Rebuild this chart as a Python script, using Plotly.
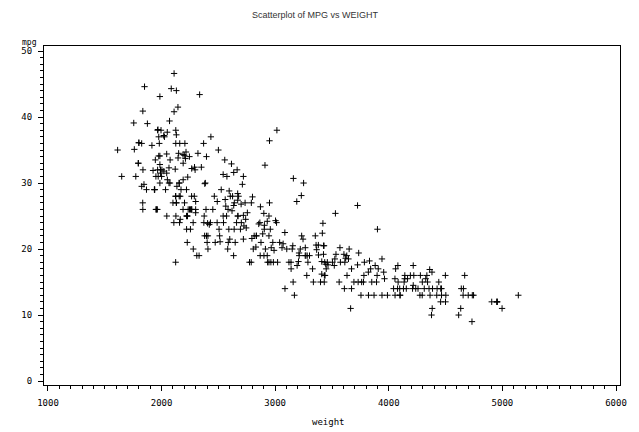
import plotly.graph_objects as go

# weight (lbs) and mpg, read from the scatterplot
weight = [
    3504, 3693, 3436, 3433, 3449, 4341, 4354, 4312, 4425, 3850, 3563, 3609, 3761, 3086, 2372, 2833, 2774, 2587, 2130, 1835,
    2672, 2430, 2375, 2234, 2648, 4615, 4376, 4382, 4732,
    2130, 2264, 2228, 2046, 2634, 3439, 3329, 3302, 3288, 4209, 4464, 4154, 4096, 4955, 4746, 5140, 2962, 2408, 3282, 3139,
    2220, 2123, 2074, 2065, 1773, 1613, 1834, 1955,
    2278, 2126, 2254, 2408, 2226, 4274, 4385, 4135, 4129, 3672, 4633, 4502, 4456, 4422, 2330, 3892, 4098, 4294, 4077, 2933,
    2511, 2979, 2189, 2395, 2288, 2506, 2164, 2100,
    4100, 3672, 3988, 4042, 3777, 4952, 4464, 4363, 4237, 4735, 4951, 3821, 3121, 3278, 2945, 3021, 2904, 1950, 4997, 4906,
    4654, 4499, 2789, 2279, 2401, 2379, 2124, 2310, 2472, 2265, 4082, 4278, 1867, 2158, 2582, 2868, 3399, 2660, 2807, 3664,
    3102, 2875, 2901, 3336, 1950, 2451, 1836, 2542, 3781, 3632, 3613, 4141, 4699, 4457, 4638, 4257, 2219, 1963, 2300, 1649,
    2003, 2125, 2108, 2246, 2489, 2391, 2000,
    3264, 3459, 3432, 3158, 4668, 4440, 4498, 4657, 3907, 3897, 3730, 3785, 3039, 3221, 3169, 2171, 2639, 2914, 2592, 2702,
    2223, 2545, 2984, 1937, 3211, 2694, 2957, 2945, 2671, 1795,
    2464, 2220, 2572, 2255, 2202, 4215, 4190, 3962, 4215, 3233, 3353, 3012, 3085, 2035, 2164, 1937, 1795, 3651, 3574, 3645,
    3193, 1825, 1990, 2155, 2565, 3150, 3940, 3270, 2930, 3820, 4380, 4055, 3870, 3755,
    2045, 2155, 1825, 2300, 1945, 3880, 4060, 4140, 4295, 3520, 3425, 3630, 3525, 4220, 4165, 4325, 4335, 1940, 2740, 2265,
    2755, 2051, 2075, 1985, 2190, 2815, 2600, 2720,
    1985, 1800, 1985, 2070, 1800, 3365, 3735, 3570, 3535, 3155, 2965, 2720, 3430, 3210, 3380, 3070, 3620, 3410, 3425, 3445,
    3205, 4080, 2155, 2560, 2300, 2230, 2515, 2745, 2855, 2405, 2830, 3140, 2795, 3410, 1990, 2135,
    3245, 2990, 2890, 3265, 3360, 3840, 3725, 3955, 3830, 4360, 4054, 3605, 3940, 1925, 1975, 1915, 2670, 3530, 3900, 3190,
    3420, 2200, 2150, 2020, 2130, 2670, 2595, 2700, 2556,
    2144, 1968, 2120, 2019, 2678, 2870, 3003, 3381, 2188, 2711, 2542, 2434, 2265, 2110, 2800, 2110, 2085, 2335, 2950, 3250,
    1850, 1835, 2145, 1845, 2910, 2420, 2500, 2905, 2290,
    2490, 2635, 2620, 2725, 2385, 1755, 1875, 1760, 2065, 1975, 2050, 1985, 2215, 2045, 2380, 2190, 2320, 2210, 2350, 2615,
    2635, 3230, 3160, 2900, 2930, 3415, 3725, 3060, 3465,
    2605, 2640, 2395, 2575, 2525, 2735, 2865, 1980, 2025, 1970, 2125, 2125, 2160, 2205, 2245, 1965, 1965, 1995, 2945, 3015,
    2585, 2835, 2665, 2370, 2950, 2790, 2130, 2295, 2625, 2720,
]
mpg = [
    18, 15, 18, 16, 17, 15, 14, 14, 14, 15, 15, 14, 15, 14, 24, 22, 18, 21, 27, 26,
    25, 24, 25, 26, 21, 10, 10, 11, 9,
    27, 28, 25, 25, 19, 16, 17, 19, 18, 14, 14, 14, 14, 12, 13, 13, 18, 22, 19, 18,
    23, 28, 30, 30, 31, 35, 27, 26,
    24, 25, 23, 20, 21, 13, 14, 15, 14, 17, 11, 13, 12, 13, 19, 15, 13, 13, 14, 18,
    22, 21, 26, 22, 28, 23, 28, 27,
    13, 14, 13, 14, 15, 12, 13, 13, 14, 13, 12, 13, 18, 16, 18, 18, 23, 26, 11, 12,
    13, 12, 18, 20, 21, 22, 18, 19, 21, 26, 15, 16, 29, 24, 20, 19, 15, 24, 20, 11,
    20, 21, 19, 15, 31, 26, 32, 25, 16, 16, 18, 16, 13, 14, 14, 14, 29, 26, 26, 31,
    32, 28, 24, 26, 24, 26, 31,
    19, 18, 15, 15, 16, 15, 16, 14, 17, 16, 15, 18, 21, 20, 13, 29, 23, 20, 23, 24,
    25, 24, 18, 29, 19, 23, 23, 22, 25, 33,
    28, 25, 25, 26, 27, 17.5, 16, 15.5, 14.5, 22, 22, 24, 22.5, 29, 24.5, 29, 33, 20, 18, 18.5,
    17.5, 29.5, 32, 28, 26.5, 20, 13, 19, 19, 16.5, 16.5, 13, 13, 13,
    31.5, 30, 36, 25.5, 33.5, 17.5, 17, 15.5, 15, 17.5, 20.5, 19, 18.5, 16, 15.5, 15.5, 16, 29, 24.5, 26,
    25.5, 30.5, 33.5, 30, 30.5, 22, 21.5, 21.5,
    43.1, 36.1, 32.8, 39.4, 36.1, 19.9, 19.4, 20.2, 19.2, 20.5, 20.2, 25.1, 20.5, 19.4, 20.6, 20.8, 18.6, 18.1, 19.2, 17.7,
    18.1, 17.5, 30, 27.5, 27.2, 30.9, 21.1, 23.2, 23.8, 23.9, 20.3, 17, 21.6, 16.2, 31.5, 29.5,
    21.5, 19.8, 22.3, 20.2, 20.6, 17, 17.6, 16.5, 18.2, 16.9, 15.5, 19.2, 18.5, 31.9, 34.1, 35.7, 27.4, 25.4, 23, 27.2,
    23.9, 34.2, 34.5, 31.8, 37.3, 28.4, 28.8, 26.8, 33.5,
    41.5, 38.1, 32.1, 37.2, 28, 26.4, 24.3, 19.1, 34.3, 29.8, 31.3, 37, 32.2, 46.6, 27.9, 40.8, 44.3, 43.4, 36.4, 30,
    44.6, 40.9, 33.8, 29.8, 32.7, 23.7, 35, 23.6, 32.4,
    27.2, 26.6, 25.8, 23.5, 30, 39.1, 39, 35.1, 32.3, 37, 37.7, 34.1, 34.7, 34.4, 29.9, 33, 34.5, 33.7, 32.4, 32.9,
    31.6, 28.1, 30.7, 25.4, 24.2, 22.4, 26.6, 20.2, 17.6,
    28, 27, 34, 31, 29, 27, 24, 36, 37, 31, 38, 36, 36, 36, 34, 38, 32, 38, 25, 38,
    26, 22, 32, 36, 27, 27, 44, 32, 28, 31,
]

x_ticks = [1000, 2000, 3000, 4000, 5000, 6000]
x_labels = ["1000", "2000", "3000", "4000", "5000", "6000"]
y_ticks = [0, 10, 20, 30, 40, 50]
y_labels = ["0", "10", "20", "30", "40", "50"]

title_text = "Scatterplot of MPG vs WEIGHT"
x_title = "weight"
y_title = "mpg"

mono = "DejaVu Sans Mono"

fig = go.Figure()
fig.add_trace(go.Scatter(
    x=weight, y=mpg, mode="markers",
    marker=dict(symbol="cross-thin-open", size=4.5, color="black",
                line=dict(color="black", width=1)),
    hoverinfo="skip", showlegend=False,
))

axis_common = dict(
    showgrid=False, zeroline=False, showline=True, linecolor="black", linewidth=1,
    mirror=True, ticks="outside", tickcolor="black", ticklen=5, tickwidth=1,
    tickfont=dict(family=mono, size=9, color="black"),
)

fig.update_xaxes(
    range=[965, 6035], tickvals=x_ticks, ticktext=x_labels,
    minor=dict(dtick=100, tick0=1000, ticks="outside", ticklen=3, tickcolor="black", showgrid=False),
    ticklabelstandoff=4,
    **axis_common,
)
fig.update_yaxes(
    range=[-0.6, 50.76], tickvals=y_ticks, ticktext=y_labels,
    minor=dict(dtick=1, tick0=0, ticks="outside", ticklen=3, tickcolor="black", showgrid=False),
    ticklabelstandoff=4,
    **axis_common,
)

fig.update_layout(
    width=639, height=432,
    margin=dict(l=44, r=14, t=46, b=47),
    paper_bgcolor="white", plot_bgcolor="white",
    annotations=[
        dict(text=title_text, xref="paper", yref="paper", x=(317.5 - 44) / 581, y=1 + (46 - 15) / 339,
             xanchor="center", yanchor="middle", showarrow=False,
             font=dict(family="Liberation Sans", size=9, color="#333333")),
        dict(text=x_title, xref="paper", yref="paper", x=(331 - 44) / 581, y=-(422 - 385) / 339,
             xanchor="center", yanchor="middle", showarrow=False,
             font=dict(family=mono, size=9, color="black")),
        dict(text=y_title, xref="paper", yref="paper", x=(29 - 44) / 581, y=1 + (46 - 42) / 339,
             xanchor="center", yanchor="middle", showarrow=False,
             font=dict(family=mono, size=8, color="black")),
    ],
)

fig.write_html("out.html")
